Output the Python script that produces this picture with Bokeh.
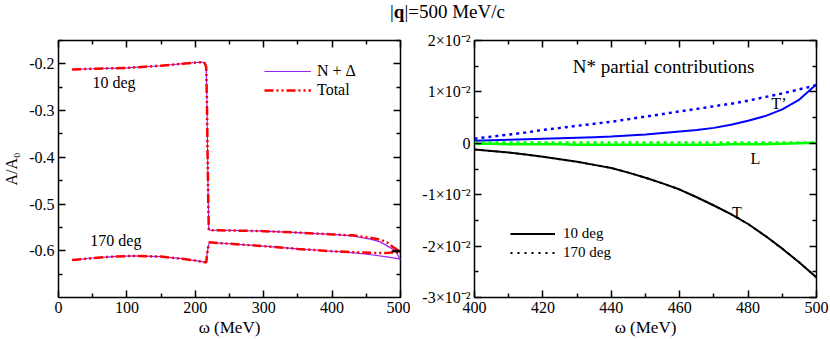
from bokeh.plotting import figure
from bokeh.models import (Range1d, FixedTicker, LinearAxis, Legend, LegendItem,
                          Label, Div)
from bokeh.layouts import column, row
from bokeh.embed import file_html
from bokeh.resources import INLINE

FONT = "Liberation Serif"

# ---------------- left panel data: A/A0 vs omega ----------------
w_nd10 = [20, 50, 100, 150, 190, 205, 212, 214, 216, 217, 218, 219, 219.7, 222,
          250, 300, 350, 400, 430, 456, 470, 480, 490, 495, 500]
a_nd10 = [-0.212, -0.2105, -0.2085, -0.204, -0.1985, -0.1965, -0.197, -0.199,
          -0.207, -0.28, -0.40, -0.50, -0.5555, -0.556,
          -0.5565, -0.558, -0.561, -0.565, -0.568, -0.575, -0.581, -0.589,
          -0.598, -0.606, -0.620]
w_tot10 = w_nd10
a_tot10 = [-0.212, -0.2105, -0.2085, -0.204, -0.1985, -0.1965, -0.197, -0.199,
           -0.207, -0.28, -0.40, -0.50, -0.5555, -0.556,
           -0.5565, -0.558, -0.561, -0.565, -0.567, -0.572, -0.576, -0.582,
           -0.593, -0.598, -0.603]

w_nd170 = [20, 50, 80, 110, 150, 180, 200, 216, 217, 219, 221, 250, 300, 350,
           400, 430, 460, 480, 500]
a_nd170 = [-0.620, -0.6155, -0.6125, -0.611, -0.6125, -0.617, -0.621, -0.625,
           -0.61, -0.59, -0.582, -0.585, -0.590, -0.596, -0.601, -0.604, -0.609,
           -0.613, -0.618]
w_tot170 = w_nd170
a_tot170 = [-0.620, -0.6155, -0.6125, -0.611, -0.6125, -0.617, -0.621, -0.625,
            -0.61, -0.59, -0.582, -0.585, -0.590, -0.596, -0.601, -0.603, -0.6045,
            -0.6045, -0.603]

w_blk = [487, 500]
a_blk = [-0.6012, -0.6015]

left_xticks = [0, 100, 200, 300, 400, 500]
left_xminor = [50, 150, 250, 350, 450]
left_yticks = [-0.6, -0.5, -0.4, -0.3, -0.2]
left_yminor = [-0.65, -0.55, -0.45, -0.35, -0.25, -0.15]
left_ylabels = ["-0.6", "-0.5", "-0.4", "-0.3", "-0.2"]

# ---------------- right panel data: N* partial contributions ----------------
w_r = [400, 405, 410, 415, 420, 425, 430, 435, 440, 445, 450, 455, 460, 465,
       470, 475, 480, 485, 490, 495, 500]
t_10 = [-0.0012, -0.0015, -0.0018, -0.0022, -0.0026, -0.0031, -0.0036, -0.0042,
        -0.0048, -0.0057, -0.0067, -0.0078, -0.0090, -0.0105, -0.0121, -0.0138,
        -0.0157, -0.0180, -0.0205, -0.0232, -0.0261]
t_170 = t_10
tp_10 = [0.0005, 0.0006, 0.0007, 0.0008, 0.0009, 0.0010, 0.0011, 0.0012, 0.0013,
         0.0015, 0.0017, 0.0020, 0.0023, 0.0026, 0.0030, 0.0036, 0.0044, 0.0053,
         0.0066, 0.0085, 0.0115]
tp_170 = [0.0009, 0.0013, 0.0017, 0.0021, 0.0026, 0.0030, 0.0034, 0.0038, 0.0042,
          0.0047, 0.0052, 0.0057, 0.0062, 0.0067, 0.0072, 0.0077, 0.0083, 0.0090,
          0.0097, 0.0105, 0.0113]
l_10 = [-0.0001, -0.0001, -0.0002, -0.0002, -0.0002, -0.0002, -0.0003, -0.0003,
        -0.0003, -0.0003, -0.0003, -0.0003, -0.0003, -0.0003, -0.0003, -0.0002,
        -0.0002, -0.0002, -0.0001, 0.0000, 0.0001]
l_170 = [0.00015] * 21

right_xticks = [400, 420, 440, 460, 480, 500]
right_xminor = [410, 430, 450, 470, 490]
right_yticks = [-0.03, -0.02, -0.01, 0.0, 0.01, 0.02]
right_yminor = [-0.025, -0.015, -0.005, 0.005, 0.015]
right_ylabels = ["-3×10⁻²", "-2×10⁻²", "-1×10⁻²", "0", "1×10⁻²", "2×10⁻²"]


def style_axes(p, xt, xm, yt, ym, ylabels, xlabel, ylabel=None):
    xtk = FixedTicker(ticks=xt, minor_ticks=xm)
    ytk = FixedTicker(ticks=yt, minor_ticks=ym)
    bottom = p.below[0]
    left = p.left[0]
    bottom.ticker = xtk
    left.ticker = ytk
    left.major_label_overrides = {v: s for v, s in zip(yt, ylabels)}
    p.xgrid.visible = False
    p.ygrid.visible = False
    p.outline_line_color = "black"
    p.outline_line_width = 1.5
    p.outline_line_alpha = 1.0
    top = LinearAxis(ticker=xtk)
    right = LinearAxis(ticker=ytk)
    p.add_layout(top, "above")
    p.add_layout(right, "right")
    for ax in [top, right]:
        ax.major_label_text_color = None
        ax.major_label_text_font_size = "1px"
        ax.major_label_standoff = 0
    for ax in [bottom, left, top, right]:
        ax.axis_line_color = None
        ax.major_tick_in = 7
        ax.major_tick_out = 0
        ax.minor_tick_in = 4
        ax.minor_tick_out = 0
        ax.major_tick_line_width = 1.5
        ax.minor_tick_line_width = 1.5
        ax.major_tick_line_color = "black"
        ax.minor_tick_line_color = "black"
    for ax in [bottom, left]:
        ax.major_label_text_font = FONT
        ax.major_label_text_font_size = "16px"
        ax.major_label_text_color = "black"
        ax.major_label_standoff = 4
        ax.axis_label_text_font = FONT
        ax.axis_label_text_font_size = "17px"
        ax.axis_label_text_font_style = "normal"
        ax.axis_label_text_color = "black"
        ax.axis_label_standoff = 2
    bottom.axis_label = xlabel
    if ylabel:
        left.axis_label = ylabel
        left.axis_label_text_font_size = "16px"
        left.axis_label_standoff = 6


def style_legend(leg, size, gw, gh, sp, so):
    leg.label_text_font = FONT
    leg.label_text_font_size = size
    leg.label_text_color = "black"
    leg.glyph_width = gw
    leg.glyph_height = gh
    leg.label_height = gh
    leg.spacing = sp
    leg.padding = 0
    leg.margin = 0
    leg.label_standoff = so
    leg.border_line_alpha = 0
    leg.background_fill_alpha = 0


FIG_H = 315

# ---------------- left figure ----------------
p1 = figure(width=410, height=FIG_H, output_backend="svg", toolbar_location=None,
            x_range=Range1d(0, 500), y_range=Range1d(-0.7, -0.15),
            min_border_left=57, min_border_right=10, min_border_top=16,
            min_border_bottom=40, background_fill_color="white",
            border_fill_color="white", margin=0)
style_axes(p1, left_xticks, left_xminor, left_yticks, left_yminor, left_ylabels,
           "ω (MeV)", "A/A₀")

PURPLE = "#a020f0"
DASHDOT = "9 3 2 3 2 3"
r_nd10 = p1.line(w_nd10, a_nd10, line_color=PURPLE, line_width=1.2)
r_nd170 = p1.line(w_nd170, a_nd170, line_color=PURPLE, line_width=1.2)
r_tot10 = p1.line(w_tot10, a_tot10, line_color="red", line_width=2.5, line_dash=DASHDOT)
r_tot170 = p1.line(w_tot170, a_tot170, line_color="red", line_width=2.5, line_dash=DASHDOT)
p1.line(w_blk, a_blk, line_color="black", line_width=2)

leg1 = Legend(items=[LegendItem(label="N + Δ", renderers=[r_nd10]),
                     LegendItem(label="Total", renderers=[r_tot10])],
              location=(206, 198))
style_legend(leg1, "16px", 47, 16, 1, 6)
p1.add_layout(leg1)

for txt, x, y in [("10 deg", 49.6, -0.240), ("170 deg", 46.6, -0.577)]:
    p1.add_layout(Label(x=x, y=y, text=txt, text_font=FONT, text_font_size="16px",
                        text_baseline="middle", text_align="left",
                        text_color="black"))

# ---------------- right figure ----------------
p2 = figure(width=420, height=FIG_H, output_backend="svg", toolbar_location=None,
            x_range=Range1d(400, 500), y_range=Range1d(-0.03, 0.02),
            min_border_left=64, min_border_right=14, min_border_top=16,
            min_border_bottom=40, background_fill_color="white",
            border_fill_color="white", margin=0)
style_axes(p2, right_xticks, right_xminor, right_yticks, right_yminor,
           right_ylabels, "ω (MeV)")

DOT = "3 4"
r_t170 = p2.line(w_r, t_170, line_color="black", line_width=2, line_dash="2 5")
r_t10 = p2.line(w_r, t_10, line_color="black", line_width=2)
p2.line(w_r, tp_170, line_color="blue", line_width=2.5, line_dash=DOT)
p2.line(w_r, tp_10, line_color="blue", line_width=2)
p2.line(w_r, l_10, line_color="#00ff00", line_width=2.5)
p2.line(w_r, l_170, line_color="#00ff00", line_width=2.5, line_dash=DOT)

leg2 = Legend(items=[LegendItem(label="10 deg", renderers=[r_t10]),
                     LegendItem(label="170 deg", renderers=[r_t170])],
              location=(36, 36))
style_legend(leg2, "15px", 45, 17, 2, 8)
p2.add_layout(leg2)

p2.add_layout(Label(x=455.3, y=0.015, text="N* partial contributions",
                    text_font=FONT, text_font_size="19px", text_align="center",
                    text_baseline="middle", text_color="black"))
for txt, x, y in [("T’", 486.8, 0.0078), ("L", 480.7, -0.003), ("T", 475.3, -0.0134)]:
    p2.add_layout(Label(x=x, y=y, text=txt, text_font=FONT, text_font_size="16px",
                        text_align="left", text_baseline="middle",
                        text_color="black"))

title = Div(text=('<div style="font-family:\'Liberation Serif\';font-size:19px;'
                  'line-height:24px;padding-left:390px;white-space:nowrap;color:black">'
                  '|<b>q</b>|=500 MeV/c</div>'),
            width=830, height=24, margin=0)

layout = column(title, row(p1, p2, margin=0), margin=0)
open("out.html", "w").write(file_html(layout, INLINE))
